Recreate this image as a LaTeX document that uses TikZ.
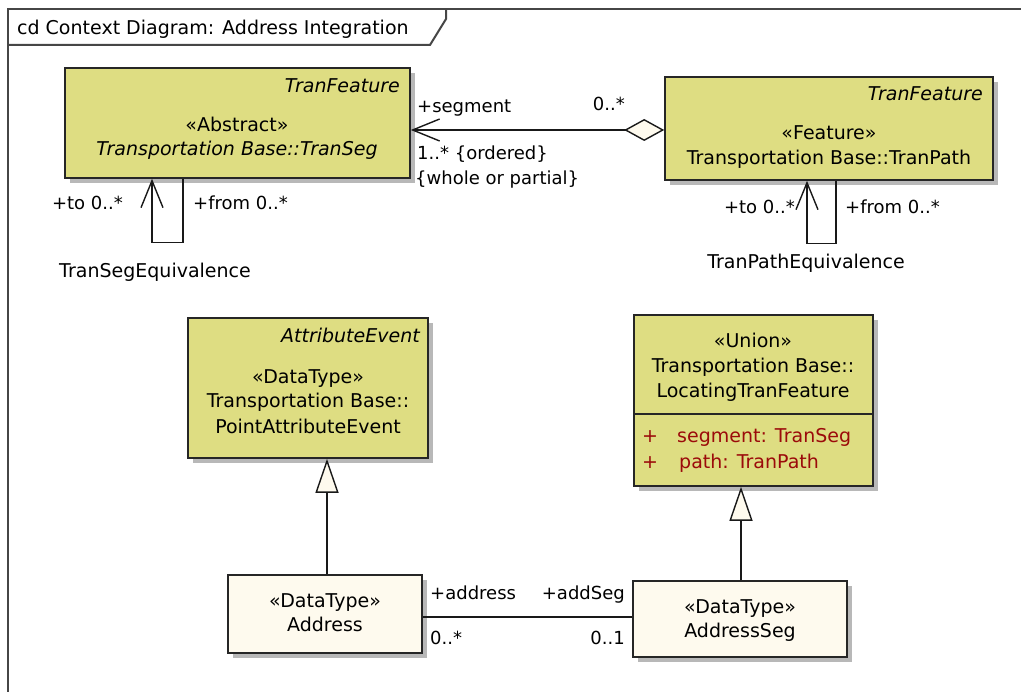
\documentclass[tikz,border=0pt]{standalone}
\usepackage{fontspec}
\setmainfont{DejaVu Sans}
\usetikzlibrary{arrows.meta,shadows}
\definecolor{umlyellow}{RGB}{222,221,130}
\definecolor{umlivory}{RGB}{254,250,238}
\definecolor{umlred}{RGB}{155,10,10}
\definecolor{framegray}{RGB}{70,70,70}
\tikzset{
  box/.style={draw=black!85, line width=1.6pt, inner sep=0pt,
    drop shadow={shadow xshift=5pt, shadow yshift=-5pt, fill=black!28, opacity=1}},
  ybox/.style={box, fill=umlyellow},
  ibox/.style={box, fill=umlivory},
  txt/.style={inner sep=0pt, text height=13.5pt, text depth=0pt, font=\fontsize{19}{25}\selectfont},
  lbl/.style={txt, font=\fontsize{18}{22}\selectfont},
  ital/.style={txt, font=\fontsize{19}{25}\selectfont\itshape},
  attr/.style={txt, text=umlred},
  conn/.style={draw=black!90, line width=1.4pt},
  frameline/.style={draw=framegray, line width=2pt},
  barb/.style={-{Straight Barb[length=27pt,width=22pt]}},
  gen/.style={-{Triangle[open,fill=umlivory,length=34pt,width=23pt]}}
}
\begin{document}
\begin{tikzpicture}[x=1pt,y=-1pt]
\useasboundingbox (0,0) rectangle (1021,692);
% frame
\draw[frameline] (8,700) -- (8,9) -- (1030,9);
\draw[frameline] (8,45) -- (430,45) -- (446,19) -- (446,9);
\node[txt, anchor=west] (title) at (17,28) {cd Context Diagram: Address Integration};

% boxes
\node[ybox, minimum width=345pt, minimum height=110pt] (seg) at (237.5,123) {};
\node[ybox, minimum width=328pt, minimum height=103pt] (path) at (829,128.5) {};
\node[ybox, minimum width=240pt, minimum height=140pt] (pae) at (308,388) {};
\node[ybox, minimum width=239pt, minimum height=171pt] (ltf) at (753.5,400.5) {};
\node[ibox, minimum width=194pt, minimum height=78pt] (addr) at (325,614) {};
\node[ibox, minimum width=214pt, minimum height=76pt] (aseg) at (740,619) {};
\draw[draw=black!85, line width=1.6pt] (ltf.west |- 0,414) -- (ltf.east |- 0,414);

% box texts
\node[ital, anchor=east] (segst) at (400,86) {TranFeature};
\node[txt] (segs) at (237,125) {«Abstract»};
\node[ital] (segn) at (237,149) {Transportation Base::TranSeg};

\node[ital, anchor=east] (pathst) at (983,94) {TranFeature};
\node[txt] (paths) at (829,133) {«Feature»};
\node[txt] (pathn) at (829,158) {Transportation Base::TranPath};

\node[ital, anchor=east] (paest) at (420,336) {AttributeEvent};
\node[txt] (paes) at (308,377) {«DataType»};
\node[txt] (paen1) at (308,401) {Transportation Base::};
\node[txt] (paen2) at (308,427) {PointAttributeEvent};

\node[txt] (ltfs) at (753,341) {«Union»};
\node[txt] (ltfn1) at (753,366) {Transportation Base::};
\node[txt] (ltfn2) at (753,391) {LocatingTranFeature};
\node[attr, anchor=west] (ltfp1) at (642,436) {+};
\node[attr, anchor=west] (ltfa1) at (677,436) {segment: TranSeg};
\node[attr, anchor=west] (ltfp2) at (642,462) {+};
\node[attr, anchor=west] (ltfa2) at (679,462) {path: TranPath};

\node[txt] (addrs) at (325,601) {«DataType»};
\node[txt] (addrn) at (325,625) {Address};
\node[txt] (asegs) at (740,607) {«DataType»};
\node[txt] (asegn) at (740,631) {AddressSeg};

% aggregation TranPath -> TranSeg
\draw[conn, {Straight Barb[length=27pt,width=22pt]}-{Diamond[open,fill=umlivory,length=40pt,width=22pt]}]
  (seg.east |- 0,130) -- (path.west |- 0,130);
\node[lbl, anchor=west] (l1) at (417,106) {+segment};
\node[lbl, anchor=east] (l2) at (625,104) {0..*};
\node[lbl, anchor=west] (l3) at (417,153) {1..* \{ordered\}};
\node[lbl, anchor=west] (l4) at (415,178) {\{whole or partial\}};

% TranSeg self loop
\draw[conn, barb] ([xshift=-54.5pt]seg.south) -- ++(0,64) -- ++(-31,0) -- ([xshift=-85.5pt]seg.south);
\node[lbl, anchor=east] (l5) at (123,203) {+to 0..*};
\node[lbl, anchor=west] (l6) at (193,203) {+from 0..*};
\node[txt] (l7) at (155,271) {TranSegEquivalence};

% TranPath self loop
\draw[conn, barb] ([xshift=7pt]path.south) -- ++(0,63) -- ++(-29,0) -- ([xshift=-22pt]path.south);
\node[lbl, anchor=east] (l8) at (795,207) {+to 0..*};
\node[lbl, anchor=west] (l9) at (845,207) {+from 0..*};
\node[txt] (l10) at (806,262) {TranPathEquivalence};

% generalizations
\draw[conn, gen] (addr.north -| 327,0) -- (pae.south -| 327,0);
\draw[conn, gen] (aseg.north -| 741,0) -- (ltf.south -| 741,0);

% Address - AddressSeg
\draw[conn] (addr.east |- 0,617) -- (aseg.west |- 0,617);
\node[lbl, anchor=west] (l11) at (430,593) {+address};
\node[lbl, anchor=east] (l12) at (625,593) {+addSeg};
\node[lbl, anchor=west] (l13) at (430,638) {0..*};
\node[lbl, anchor=east] (l14) at (625,638) {0..1};
\end{tikzpicture}
\end{document}
